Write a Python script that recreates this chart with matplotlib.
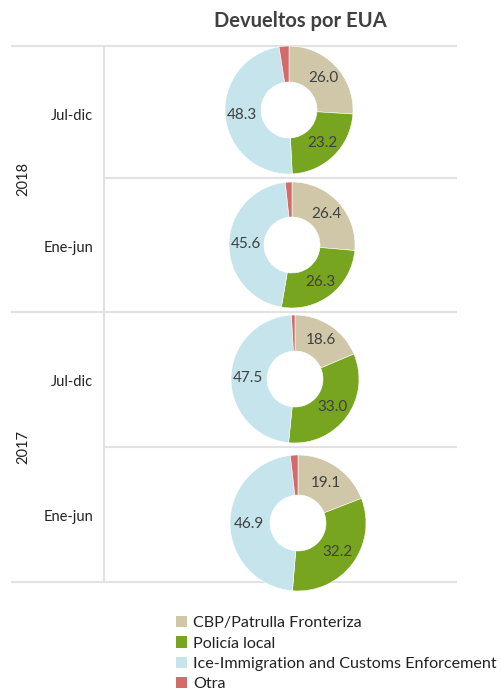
import matplotlib
matplotlib.use("Agg")
import matplotlib.pyplot as plt
from matplotlib.patches import Patch
import numpy as np

# ---- data ----
categories = ['CBP/Patrulla Fronteriza', 'Policía local',
              'Ice-Immigration and Customs Enforcement', 'Otra']
years = ['2018', '2017']
periods = ['Jul-dic', 'Ene-jun', 'Jul-dic', 'Ene-jun']
cbp = [26.0, 26.4, 18.6, 19.1]
policia = [23.2, 26.3, 33.0, 32.2]
ice = [48.3, 45.6, 47.5, 46.9]
otra = [2.5, 1.7, 0.9, 1.8]
title = 'Devueltos por EUA'

colors = ['#CFC7A8', '#78A51F', '#C6E4EC', '#D46B6B']
text_col = '#404040'
line_col = '#E2E2E2'
plt.rcParams['font.family'] = ['Lato', 'DejaVu Sans']

W, H = 502, 697
fig = plt.figure(figsize=(W / 100, H / 100), dpi=100)
ax = fig.add_axes([0, 0, 1, 1])
ax.set_xlim(0, W)
ax.set_ylim(0, H)
ax.set_aspect('equal')
ax.axis('off')

def Y(py):
    return H - py

# grid lines
x_left, x_mid, x_right = 11, 104, 457
rows_y = [46, 178, 312, 447, 582]
for i, y in enumerate(rows_y):
    x0 = x_left if i % 2 == 0 else x_mid
    ax.plot([x0, x_right], [Y(y), Y(y)], color=line_col, lw=1.5, solid_capstyle='butt', zorder=1)
ax.plot([x_mid, x_mid], [Y(rows_y[0]), Y(rows_y[-1])], color=line_col, lw=1.5, zorder=1)

# title
ax.text(300, Y(21), title, ha='center', va='center', fontsize=14.5, fontweight='bold', color=text_col)

# row labels
label_y = [116, 248, 382, 517]
for p, ly in zip(periods, label_y):
    ax.text(93, Y(ly), p, ha='right', va='center', fontsize=10.5, color='#222222')
for yr, yy in zip(years, [179, 447]):
    ax.text(23, Y(yy), yr, ha='center', va='center', rotation=90, fontsize=10.5, color='#222222')

# donuts
centers = [(289, 110, 64), (292, 245, 63), (295, 379, 64), (298, 523, 68)]
hole = 28
for i, (cx, cy, r) in enumerate(centers):
    vals = [cbp[i], policia[i], ice[i], otra[i]]
    wedges, _ = ax.pie(vals, colors=colors, startangle=90, counterclock=False,
                       radius=r, center=(cx, Y(cy)),
                       wedgeprops=dict(width=r - hole, edgecolor='white', linewidth=0.4),
                       frame=True)
    for w, v in zip(wedges[:3], vals[:3]):
        th = np.deg2rad((w.theta1 + w.theta2) / 2)
        rr = (r + hole) / 2 + 1
        ax.text(cx + rr * np.cos(th), Y(cy) + rr * np.sin(th), f'{v:.1f}',
                ha='center', va='center', fontsize=11, color=text_col)

ax.set_xlim(0, W)
ax.set_ylim(0, H)
ax.axis('off')

handles = [Patch(facecolor=c, edgecolor='none') for c in colors]
fig.legend(handles, categories, loc='upper left', bbox_to_anchor=(176 / W, 1 - 616 / H),
           frameon=False, fontsize=11.6, handlelength=0.7, handleheight=0.7,
           handletextpad=0.35, labelspacing=0.38, borderaxespad=0, borderpad=0,
           labelcolor='#222222')

fig.savefig('out.png', dpi=100, facecolor='white')
